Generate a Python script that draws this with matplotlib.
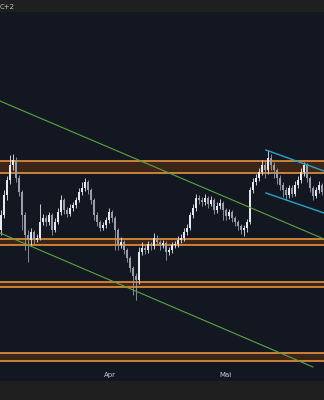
import matplotlib
matplotlib.use("Agg")
import matplotlib.pyplot as plt

# candle data (arbitrary price units), one candle per session
opens = [170, 185, 205, 220, 235, 240, 222, 208, 185, 165, 160, 168, 160, 162, 178, 182, 178, 185, 170, 178,
         188, 200, 190, 186, 192, 195, 200, 208, 212, 218, 210, 200, 185, 178, 172, 175, 180, 188, 182, 170,
         155, 158, 150, 142, 132, 124, 120, 148, 152, 150, 156, 154, 162, 158, 155, 157, 148, 150, 155, 156,
         160, 162, 168, 172, 185, 192, 202, 200, 198, 202, 196, 200, 190, 194, 197, 190, 184, 188, 182, 178,
         174, 170, 172, 178, 210, 218, 222, 228, 235, 230, 242, 235, 230, 222, 215, 210, 205, 212, 206, 215,
         220, 228, 235, 222, 212, 204, 210, 215]
closes = [185, 205, 220, 235, 240, 222, 208, 185, 165, 160, 168, 160, 162, 178, 182, 178, 185, 170, 178, 188,
          200, 190, 186, 192, 195, 200, 208, 212, 218, 210, 200, 185, 178, 172, 175, 180, 188, 182, 170, 155,
          158, 150, 142, 132, 124, 120, 148, 152, 150, 156, 154, 162, 158, 155, 157, 148, 150, 155, 156, 160,
          162, 168, 172, 185, 192, 202, 200, 198, 202, 196, 200, 190, 194, 197, 190, 184, 188, 182, 178, 174,
          170, 172, 178, 210, 218, 222, 228, 235, 230, 242, 235, 230, 222, 215, 210, 205, 212, 206, 215, 220,
          228, 235, 222, 212, 204, 210, 215, 208]
highs = [190, 210, 224, 245, 246, 243, 225, 210, 188, 170, 172, 170, 166, 196, 186, 185, 188, 187, 182, 192,
         205, 202, 193, 196, 198, 203, 212, 218, 222, 220, 212, 202, 188, 180, 178, 183, 192, 190, 184, 172,
         163, 160, 152, 144, 134, 127, 153, 158, 155, 159, 158, 167, 165, 160, 160, 159, 153, 158, 159, 164,
         166, 172, 176, 188, 196, 206, 205, 203, 206, 204, 204, 202, 198, 201, 199, 192, 191, 190, 184, 180,
         176, 175, 181, 213, 222, 226, 232, 240, 240, 250, 246, 238, 232, 225, 218, 213, 215, 215, 219, 224,
         232, 238, 237, 224, 214, 213, 219, 217]
lows = [165, 182, 200, 216, 230, 218, 204, 170, 150, 138, 155, 156, 158, 160, 175, 174, 175, 165, 168, 176,
        185, 186, 183, 184, 189, 192, 198, 205, 209, 206, 196, 180, 174, 169, 170, 172, 177, 178, 150, 150,
        152, 146, 138, 128, 105, 100, 116, 145, 146, 147, 150, 151, 155, 150, 152, 140, 145, 147, 152, 153,
        157, 159, 165, 170, 182, 189, 196, 194, 195, 192, 194, 186, 187, 191, 180, 180, 181, 178, 174, 170,
        166, 164, 168, 176, 207, 215, 219, 225, 222, 226, 230, 222, 216, 210, 203, 200, 202, 203, 204, 212,
        217, 224, 218, 208, 200, 202, 207, 205]

# horizontal support/resistance zones (lower, upper)
zones = [(227, 239), (155, 161), (113, 118), (39, 47)]

# trendlines: (x0, y0, x1, y1) in candle index / price
green_lines = [(-0.33, 299, 107.67, 161), (-0.33, 167, 104.0, 33)]
cyan_lines = [(88.3, 250, 107.67, 229), (88.3, 207, 107.67, 187)]

month_labels = ["Apr", "Mai"]
month_pos = [36.3, 75.0]

bg = "#131722"
bar_bg = "#1f1f1f"
orange = "#e8923c"
zone_fill = "#3b2519"

fig = plt.figure(figsize=(3.24, 4.0), dpi=100)
fig.patch.set_facecolor(bar_bg)
ax = fig.add_axes([0, 19 / 400, 1, (381 - 12) / 400])
ax.set_facecolor(bg)

# zones
for lo, hi in zones:
    ax.axhspan(lo, hi, color=zone_fill, lw=0, zorder=1)
    ax.axhline(lo, color=orange, lw=1.2, zorder=2)
    ax.axhline(hi, color=orange, lw=1.2, zorder=2)

# candles
for i in range(len(closes)):
    o, c, h, l = opens[i], closes[i], highs[i], lows[i]
    col = "#e6e8ee" if c >= o else "#9a9ea8"
    ax.vlines(i, l, h, color=col, lw=0.6, zorder=3)
    ax.bar(i, abs(c - o) if c != o else 0.8, bottom=min(o, c), width=0.55,
           color=col, lw=0, zorder=4)

for x0, y0, x1, y1 in green_lines:
    ax.plot([x0, x1], [y0, y1], color="#5ca43e", lw=0.8, zorder=5)
for x0, y0, x1, y1 in cyan_lines:
    ax.plot([x0, x1], [y0, y1], color="#26a6c6", lw=1.0, zorder=5)

ax.set_xlim(-0.33, 107.67)
ax.set_ylim(19, 388)
ax.set_xticks([])
ax.set_yticks([])
for s in ax.spines.values():
    s.set_visible(False)

for lab, pos in zip(month_labels, month_pos):
    ax.text(pos, 0.017, lab, transform=ax.get_xaxis_transform(), color="#c8cad0",
            fontsize=5, ha="center", va="center", zorder=6)

fig.text(0.0, 0.983, "C+2", color="#c0c0c0", fontsize=5, ha="left", va="center")

fig.savefig("out.png", dpi=100, facecolor=bar_bg)
